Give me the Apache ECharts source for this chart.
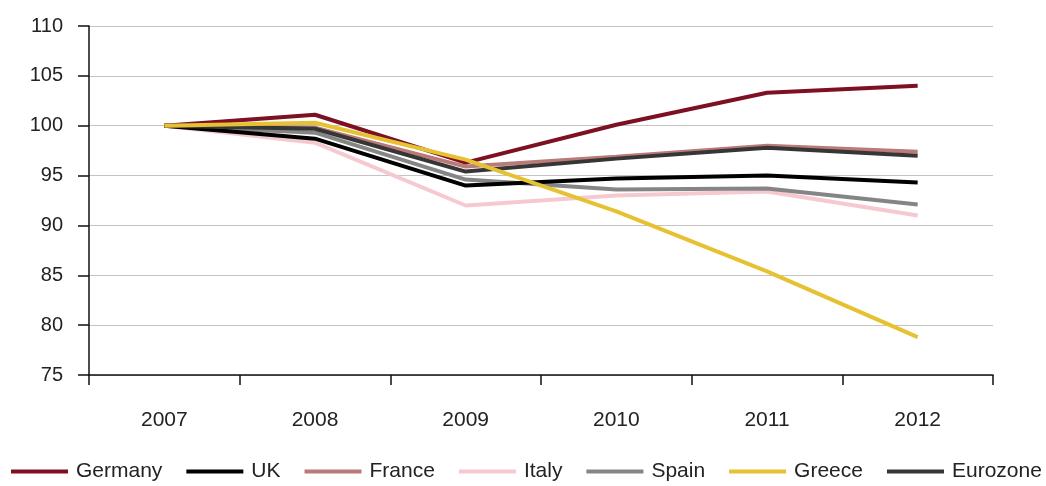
<!DOCTYPE html>
<html>
<head>
<meta charset="utf-8">
<script src="https://cdn.jsdelivr.net/npm/echarts@6/dist/echarts.min.js"></script>
<style>
  html, body { margin: 0; padding: 0; background: #fff; }
  #chart { width: 1046px; height: 486px; }
</style>
</head>
<body>
<div id="chart"></div>
<script>
// Index of real output, 2007 = 100
const years = ['2007', '2008', '2009', '2010', '2011', '2012'];
const germany  = [100, 101.1, 96.3, 100.1, 103.3, 104.0];
const uk       = [100, 98.7, 94.0, 94.7, 95.0, 94.3];
const france   = [100, 99.8, 95.9, 96.9, 98.0, 97.4];
const italy    = [100, 98.3, 92.0, 93.0, 93.4, 91.0];
const spain    = [100, 99.3, 94.6, 93.6, 93.7, 92.1];
const greece   = [100, 100.3, 96.6, 91.4, 85.4, 78.8];
const eurozone = [100, 99.7, 95.4, 96.7, 97.8, 97.0];

const FONT = "'Liberation Sans', Arial, sans-serif";

const seriesDefs = [
  { name: 'Germany',  data: germany,  color: '#7d1022', z: 6 },
  { name: 'UK',       data: uk,       color: '#000000', z: 4 },
  { name: 'France',   data: france,   color: '#b97a78', z: 3 },
  { name: 'Italy',    data: italy,    color: '#f6c9d0', z: 1 },
  { name: 'Spain',    data: spain,    color: '#858585', z: 2 },
  { name: 'Greece',   data: greece,   color: '#e6c232', z: 7 },
  { name: 'Eurozone', data: eurozone, color: '#363636', z: 5 }
];

const chart = echarts.init(document.getElementById('chart'), null, { renderer: 'canvas' });

chart.setOption({
  animation: false,
  backgroundColor: '#ffffff',
  grid: { left: 89, right: 53, top: 26, bottom: 111 },
  legend: {
    data: seriesDefs.map(s => s.name),
    left: 11,
    top: 461,
    width: 1040,
    padding: 0,
    icon: 'rect',
    itemWidth: 57,
    itemHeight: 4,
    itemGap: 24,
    textStyle: { fontFamily: FONT, fontSize: 21, color: '#222', padding: [0, 0, 0, 3] }
  },
  xAxis: {
    type: 'category',
    data: years,
    boundaryGap: true,
    axisLine: { lineStyle: { color: '#111', width: 1.5 } },
    axisTick: { show: true, length: 10, lineStyle: { color: '#111', width: 1.5 } },
    axisLabel: { fontFamily: FONT, fontSize: 21, color: '#222', margin: 35 },
    splitLine: { show: false }
  },
  yAxis: {
    type: 'value',
    min: 75,
    max: 110,
    interval: 5,
    axisLine: { show: true, lineStyle: { color: '#111', width: 1.5 } },
    axisTick: { show: true, length: 11, lineStyle: { color: '#111', width: 1.5 } },
    axisLabel: { fontFamily: FONT, fontSize: 20, color: '#222', margin: 26 },
    splitLine: { show: true, lineStyle: { color: '#c4c4c4', width: 1 } }
  },
  series: seriesDefs.map(s => ({
    name: s.name,
    type: 'line',
    data: s.data,
    z: s.z,
    symbol: 'none',
    smooth: false,
    color: s.color,
    lineStyle: { color: s.color, width: 4 }
  }))
});
</script>
</body>
</html>
